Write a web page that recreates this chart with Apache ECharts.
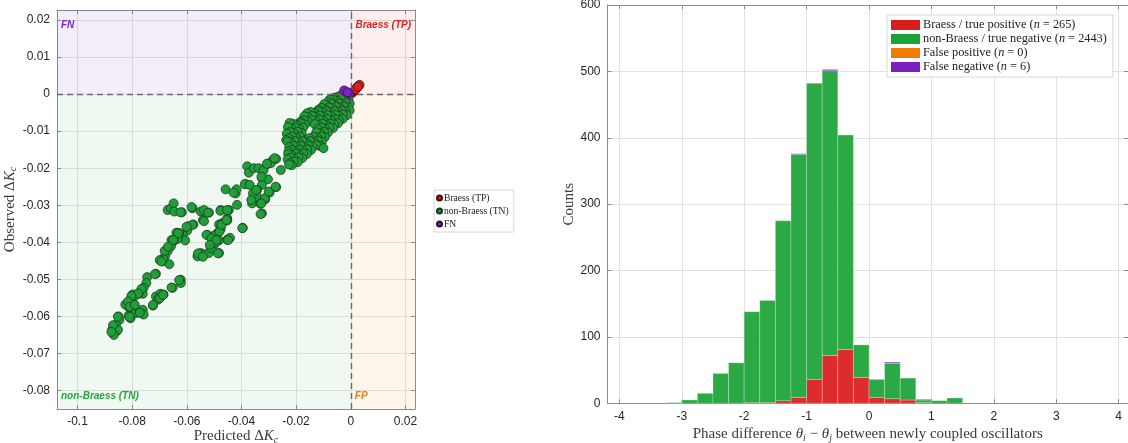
<!DOCTYPE html>
<html><head><meta charset="utf-8">
<script src="https://cdn.jsdelivr.net/npm/echarts@6/dist/echarts.min.js"></script>
<style>html,body{margin:0;padding:0;background:#fff}#c{width:1128px;height:443px}</style>
</head><body><div id="c"></div>
<script>
// ---------- Scatter data (Predicted ΔKc, Observed ΔKc) ----------
const tpPoints = [[0.0005,0.0003],[0.0008,0.0006],[0.0012,0.0008],[0.0016,0.0011],[0.0020,0.0015],[0.0024,0.0019],[0.0028,0.0022],[0.0032,0.0025],[0.0018,0.0013],[0.0026,0.0020]];
const fnPoints = [[-0.0024,0.0010],[-0.0006,0.0002],[-0.0012,0.0005]];
const tnPoints = [
[-0.0012,-0.0003],[-0.0025,-0.0006],[-0.0038,-0.0004],[-0.0050,-0.0008],[-0.0062,-0.0010],
[-0.0008,-0.0015],[-0.0022,-0.0017],[-0.0036,-0.0014],[-0.0049,-0.0018],[-0.0063,-0.0016],[-0.0077,-0.0015],[-0.0083,-0.0021],
[-0.0004,-0.0026],[-0.0018,-0.0024],[-0.0031,-0.0028],[-0.0045,-0.0025],[-0.0058,-0.0029],[-0.0072,-0.0026],[-0.0086,-0.0030],[-0.0097,-0.0027],
[-0.0010,-0.0036],[-0.0024,-0.0034],[-0.0039,-0.0038],[-0.0053,-0.0035],[-0.0067,-0.0039],[-0.0081,-0.0036],[-0.0095,-0.0040],[-0.0108,-0.0037],[-0.0118,-0.0042],
[-0.0004,-0.0044],[-0.0019,-0.0047],[-0.0033,-0.0045],[-0.0047,-0.0049],[-0.0061,-0.0046],[-0.0076,-0.0050],[-0.0090,-0.0046],[-0.0104,-0.0049],[-0.0119,-0.0047],[-0.0133,-0.0051],[-0.0147,-0.0048],[-0.0160,-0.0052],
[-0.0015,-0.0057],[-0.0029,-0.0055],[-0.0043,-0.0059],[-0.0057,-0.0056],[-0.0071,-0.0060],[-0.0086,-0.0057],[-0.0100,-0.0061],[-0.0114,-0.0058],[-0.0128,-0.0062],[-0.0142,-0.0059],[-0.0156,-0.0063],[-0.0170,-0.0060],
[-0.0030,-0.0067],[-0.0044,-0.0070],[-0.0058,-0.0068],[-0.0072,-0.0071],[-0.0087,-0.0068],[-0.0101,-0.0072],[-0.0115,-0.0069],[-0.0129,-0.0073],[-0.0143,-0.0070],[-0.0157,-0.0074],[-0.0171,-0.0071],[-0.0185,-0.0075],
[-0.0047,-0.0079],[-0.0061,-0.0082],[-0.0075,-0.0080],[-0.0089,-0.0083],[-0.0104,-0.0080],[-0.0118,-0.0084],[-0.0132,-0.0081],[-0.0168,-0.0082],[-0.0183,-0.0079],[-0.0197,-0.0083],[-0.0211,-0.0080],[-0.0224,-0.0078],
[-0.0065,-0.0092],[-0.0079,-0.0090],[-0.0093,-0.0094],[-0.0107,-0.0091],[-0.0121,-0.0095],[-0.0175,-0.0091],[-0.0189,-0.0094],[-0.0203,-0.0090],[-0.0217,-0.0093],[-0.0230,-0.0089],
[-0.0084,-0.0104],[-0.0098,-0.0102],[-0.0112,-0.0106],[-0.0126,-0.0103],[-0.0180,-0.0105],[-0.0194,-0.0102],[-0.0208,-0.0106],[-0.0222,-0.0103],[-0.0234,-0.0107],
[-0.0095,-0.0116],[-0.0109,-0.0114],[-0.0123,-0.0118],[-0.0137,-0.0115],[-0.0152,-0.0119],[-0.0186,-0.0115],[-0.0200,-0.0118],[-0.0214,-0.0115],[-0.0228,-0.0119],[-0.0236,-0.0124],
[-0.0106,-0.0128],[-0.0120,-0.0126],[-0.0134,-0.0130],[-0.0148,-0.0127],[-0.0163,-0.0131],[-0.0177,-0.0127],[-0.0191,-0.0130],[-0.0205,-0.0127],[-0.0219,-0.0131],[-0.0232,-0.0128],
[-0.0112,-0.0140],[-0.0126,-0.0138],[-0.0140,-0.0142],[-0.0155,-0.0139],[-0.0169,-0.0143],[-0.0183,-0.0139],[-0.0197,-0.0142],[-0.0211,-0.0139],[-0.0225,-0.0143],
[-0.0100,-0.0146],[-0.0146,-0.0151],[-0.0160,-0.0149],[-0.0174,-0.0153],[-0.0188,-0.0150],[-0.0202,-0.0154],[-0.0216,-0.0151],[-0.0228,-0.0155],
[-0.0161,-0.0162],[-0.0175,-0.0160],[-0.0189,-0.0164],[-0.0203,-0.0161],[-0.0217,-0.0165],[-0.0229,-0.0162],
[-0.0178,-0.0173],[-0.0192,-0.0171],[-0.0206,-0.0175],[-0.0220,-0.0172],[-0.0231,-0.0176],
[-0.0195,-0.0184],[-0.0209,-0.0182],[-0.0222,-0.0186],[-0.0216,-0.0192],[-0.0226,-0.0190],
[-0.0285,-0.0178],[-0.0256,-0.0205],
[-0.0379,-0.0195],[-0.0373,-0.0212],[-0.0355,-0.0200],[-0.0337,-0.0200],[-0.0319,-0.0205],[-0.0303,-0.0188],[-0.0292,-0.0186],[-0.0273,-0.0175],
[-0.0385,-0.0243],[-0.0325,-0.0227],[-0.0303,-0.0230],[-0.0273,-0.0251],[-0.0325,-0.0245],[-0.0343,-0.0259],[-0.0349,-0.0272],[-0.0355,-0.0284],[-0.0361,-0.0295],[-0.0343,-0.0277],[-0.0313,-0.0284],[-0.0297,-0.0266],[-0.0331,-0.0296],[-0.0325,-0.0322],[-0.0416,-0.0299],[-0.0458,-0.0257],[-0.0421,-0.0268],[-0.0418,-0.0257],[-0.0446,-0.0313],[-0.0476,-0.0313],
[-0.0670,-0.0313],[-0.0658,-0.0308],[-0.0648,-0.0295],[-0.0646,-0.0317],[-0.0618,-0.0319],[-0.0579,-0.0308],[-0.0549,-0.0317],[-0.0537,-0.0313],[-0.0519,-0.0320],[-0.0452,-0.0335],
[-0.0583,-0.0305],[-0.0541,-0.0340],[-0.0522,-0.0320],[-0.0477,-0.0315],[-0.0452,-0.0313],[-0.0429,-0.0266],[-0.0388,-0.0243],[-0.0623,-0.0319],
[-0.0370,-0.0245],[-0.0358,-0.0268],[-0.0364,-0.0286],[-0.0346,-0.0259],[-0.0315,-0.0281],[-0.0327,-0.0295],[-0.0300,-0.0263],[-0.0330,-0.0324],[-0.0327,-0.0223],[-0.0307,-0.0188],[-0.0279,-0.0173],[-0.0275,-0.0250],
[-0.0537,-0.0343],[-0.0576,-0.0352],[-0.0595,-0.0357],[-0.0598,-0.0368],[-0.0615,-0.0380],[-0.0628,-0.0375],[-0.0606,-0.0395],[-0.0634,-0.0391],[-0.0648,-0.0397],[-0.0658,-0.0411],[-0.0670,-0.0424],[-0.0680,-0.0438],[-0.0688,-0.0451],[-0.0664,-0.0459],[-0.0686,-0.0445],
[-0.0482,-0.0352],[-0.0470,-0.0348],[-0.0452,-0.0341],[-0.0476,-0.0364],[-0.0488,-0.0375],[-0.0500,-0.0382],[-0.0525,-0.0380],[-0.0506,-0.0395],[-0.0482,-0.0395],[-0.0452,-0.0393],[-0.0442,-0.0388],[-0.0395,-0.0361],[-0.0549,-0.0429],[-0.0555,-0.0436],[-0.0561,-0.0438],[-0.0537,-0.0433],[-0.0519,-0.0429],[-0.0500,-0.0406],[-0.0482,-0.0429],[-0.0513,-0.0415],[-0.0494,-0.0400],
[-0.0713,-0.0485],[-0.0745,-0.0494],[-0.0748,-0.0510],[-0.0758,-0.0523],[-0.0767,-0.0532],[-0.0761,-0.0539],[-0.0777,-0.0539],[-0.0792,-0.0546],[-0.0798,-0.0541],[-0.0806,-0.0559],[-0.0815,-0.0573],[-0.0804,-0.0582],[-0.0786,-0.0591],[-0.0773,-0.0589],[-0.0761,-0.0582],[-0.0758,-0.0595],[-0.0806,-0.0605],[-0.0813,-0.0598],
[-0.0713,-0.0546],[-0.0697,-0.0539],[-0.0685,-0.0541],[-0.0706,-0.0555],[-0.0724,-0.0571],[-0.0652,-0.0523],[-0.0622,-0.0501],[-0.0622,-0.0510],[-0.0825,-0.0568],
[-0.0850,-0.0600],[-0.0846,-0.0609],[-0.0860,-0.0623],[-0.0873,-0.0636],[-0.0870,-0.0645],[-0.0858,-0.0641],[-0.0852,-0.0636],[-0.0867,-0.0650],
[-0.0580,-0.0353],[-0.0638,-0.0374],[-0.0656,-0.0394],[-0.0681,-0.0423],[-0.0699,-0.0448],[-0.0717,-0.0486],
[-0.0528,-0.0380],[-0.0510,-0.0389],[-0.0492,-0.0394],[-0.0480,-0.0371],[-0.0473,-0.0353],[-0.0455,-0.0340],[-0.0449,-0.0394],[-0.0516,-0.0407],[-0.0559,-0.0430],[-0.0541,-0.0439],[-0.0486,-0.0430],[-0.0397,-0.0362],
[-0.0601,-0.0358],[-0.0632,-0.0376],[-0.0650,-0.0394],[-0.0669,-0.0412],[-0.0693,-0.0452],[-0.0766,-0.0526],[-0.0778,-0.0538],[-0.0803,-0.0545],[-0.0815,-0.0560],[-0.0809,-0.0574],[-0.0790,-0.0569],[-0.0772,-0.0590],[-0.0809,-0.0601],[-0.0852,-0.0601],[-0.0870,-0.0624],[-0.0876,-0.0642],[-0.0724,-0.0569],[-0.0699,-0.0551],[-0.0687,-0.0542],[-0.0656,-0.0522],[-0.0628,-0.0502]
];
const scatterXTicks = [-0.1,-0.08,-0.06,-0.04,-0.02,0,0.02];
const scatterYTicks = [-0.08,-0.07,-0.06,-0.05,-0.04,-0.03,-0.02,-0.01,0,0.01,0.02];

// ---------- Histogram data ----------
const binLeft   = [-3.25,-3,-2.75,-2.5,-2.25,-2,-1.75,-1.5,-1.25,-1,-0.75,-0.5,-0.25,0,0.25,0.5,0.75,1,1.25];
const binWidth  = 0.25;
const tpCounts  = [0,0,0,0,0,1,1,4,9,36,72,81,39,9,7,5,1,0,0];
const tnCounts  = [1,5,15,45,61,137,154,271,366,446,429,323,49,27,53,33,4,4,8];
const fpCounts  = [0,0,0,0,0,0,0,0,0,0,0,0,0,0,0,0,0,0,0];
const fnCounts  = [0,0,0,0,0,0,0,0,1,0,2,0,0,0,2,0,1,0,0];
const histXTicks = [-4,-3,-2,-1,0,1,2,3,4];
const histYTicks = [0,100,200,300,400,500,600];

const histNames = ['Braess / true positive (n = 265)','non-Braess / true negative (n = 2443)','False positive (n = 0)','False negative (n = 6)'];
const histColors = ['#D91C1C','#1BA336','#F27A00','#7E1FBF'];
const scatterNames = ['Braess (TP)','non-Braess (TN)','FN'];

// ---------- build stacked histogram rectangles ----------
const stacks = [tpCounts, tnCounts, fpCounts, fnCounts];
const base = binLeft.map(() => 0);
const histData = stacks.map(counts => counts.map((c, i) => {
  const b = base[i]; base[i] += c;
  return [binLeft[i], binLeft[i] + binWidth, b, b + c];
}));

const sans = 'Liberation Sans, Arial, Helvetica, sans-serif';
const serif = 'Liberation Serif, Times New Roman, serif';
const frame = '#8c8c8c';
const gridCol = '#e2e2e2';
const tickLbl = {color:'#262626', fontSize:12, fontFamily:sans};

function mainAxis(ticks, extra) {
  return Object.assign({
    type:'value',
    axisLine:{show:true, onZero:false, lineStyle:{color:frame, width:1}},
    axisTick:{show:true, inside:true, length:4, lineStyle:{color:frame}, customValues:ticks},
    splitLine:{show:true, lineStyle:{color:gridCol, width:1}},
    axisLabel:Object.assign({margin:7, customValues:ticks}, tickLbl)
  }, extra);
}
function mirrorAxis(ticks, extra) {
  return Object.assign({
    type:'value',
    axisLine:{show:true, onZero:false, lineStyle:{color:frame, width:1}},
    axisTick:{show:true, inside:true, length:4, lineStyle:{color:frame}, customValues:ticks},
    splitLine:{show:false},
    axisLabel:{show:false}
  }, extra);
}

const LX = {min:-0.1075, max:0.0235};
const LY = {min:-0.085, max:0.0227};
const RX = {min:-4.19, max:4.15};
const RY = {min:0, max:600};

const nameRich = {
  a:{fontFamily:serif, fontSize:15, color:'#3a3a3a'},
  k:{fontFamily:serif, fontSize:15, fontStyle:'italic', color:'#3a3a3a'},
  s:{fontFamily:serif, fontSize:10, fontStyle:'italic', color:'#3a3a3a', padding:[8,0,0,0]}
};

function bgArea(x0, x1, y0, y1, fill, text, pos, col, off) {
  return [{
    xAxis:x0, yAxis:y0,
    itemStyle:{color:fill},
    label:{show:true, position:pos, formatter:text, color:col, fontFamily:sans, fontWeight:'bold', fontStyle:'italic', fontSize:10, distance:4, offset:off}
  }, {xAxis:x1, yAxis:y1}];
}

const option = {
  animation:false,
  backgroundColor:'#ffffff',
  grid:[
    {left:57, top:10, right:713, bottom:34, outerBoundsMode:'none', containLabel:false},
    {left:607.5, top:5, right:0, bottom:39.7, outerBoundsMode:'none', containLabel:false}
  ],
  xAxis:[
    mainAxis(scatterXTicks, Object.assign({gridIndex:0, position:'bottom',
      name:'{a|Predicted Δ}{k|K}{s|c}', nameLocation:'middle', nameGap:18, nameMoveOverlap:false,
      nameTextStyle:{rich:nameRich}}, LX)),
    mirrorAxis(scatterXTicks, Object.assign({gridIndex:0, position:'top'}, LX)),
    mainAxis(histXTicks, Object.assign({gridIndex:1, position:'bottom',
      name:'{a|Phase difference }{k|θ}{s|i}{a| − }{k|θ}{s|j}{a| between newly coupled oscillators}', nameLocation:'middle', nameGap:22, nameMoveOverlap:false,
      nameTextStyle:{rich:nameRich}}, RX)),
    mirrorAxis(histXTicks, Object.assign({gridIndex:1, position:'top'}, RX))
  ],
  yAxis:[
    mainAxis(scatterYTicks, Object.assign({gridIndex:0, position:'left',
      name:'{a|Observed Δ}{k|K}{s|c}', nameLocation:'middle', nameGap:33,
      nameTextStyle:{rich:nameRich}}, LY)),
    mirrorAxis(scatterYTicks, Object.assign({gridIndex:0, position:'right'}, LY)),
    mainAxis(histYTicks, Object.assign({gridIndex:1, position:'left',
      name:'Counts', nameLocation:'middle', nameGap:31,
      nameTextStyle:{fontFamily:serif, fontSize:15, color:'#3a3a3a'}}, RY)),
    mirrorAxis(histYTicks, Object.assign({gridIndex:1, position:'right'}, RY))
  ],
  legend:[
    {
      data:scatterNames, left:434, top:190, orient:'vertical',
      icon:'circle', itemWidth:5, itemHeight:5, itemGap:3,
      padding:[3,5,3,2], borderColor:'#d8d8d8', borderWidth:1, backgroundColor:'#fff',
      textStyle:{fontFamily:serif, fontSize:9.6, color:'#222', lineHeight:9.5, padding:[0,0,0,-3]}
    },
    {
      data:histNames, left:887, top:15, orient:'vertical',
      icon:'rect', itemWidth:29, itemHeight:10, itemGap:2,
      padding:[4,6,4,4], borderColor:'#d8d8d8', borderWidth:1, backgroundColor:'#fff',
      formatter: n => n.replace('(n =', '({i|n} ='),
      textStyle:{fontFamily:serif, fontSize:12.3, color:'#222', lineHeight:11, padding:[0,0,0,-2],
        rich:{i:{fontFamily:serif, fontSize:12.3, fontStyle:'italic', color:'#222', lineHeight:11}}}
    }
  ],
  series:[
    {
      name:'bg', type:'scatter', xAxisIndex:0, yAxisIndex:0, data:[], silent:true, z:1,
      markArea:{silent:true, data:[
        bgArea(LX.min, 0, 0, LY.max, 'rgba(126,47,190,0.09)', 'FN', 'insideTopLeft', '#7E22CC', [0,6]),
        bgArea(0, LX.max, 0, LY.max, 'rgba(220,40,30,0.08)', 'Braess (TP)', 'insideTopRight', '#E02020', [0,6]),
        bgArea(LX.min, 0, LY.min, 0, 'rgba(30,160,60,0.07)', 'non-Braess (TN)', 'insideBottomLeft', '#21A83C', [0,-4]),
        bgArea(0, LX.max, LY.min, 0, 'rgba(240,130,20,0.08)', 'FP', 'insideBottomLeft', '#F27F00', [0,-4])
      ]},
      markLine:{silent:true, symbol:'none', label:{show:false},
        lineStyle:{color:'#6a6a6a', type:[6,4], width:1.4},
        data:[{xAxis:0},{yAxis:0}]}
    },
    {
      name:'non-Braess (TN)', type:'scatter', xAxisIndex:0, yAxisIndex:0, z:3,
      symbolSize:9, data:tnPoints,
      itemStyle:{color:'#1F9F38', borderColor:'#1d2d1d', borderWidth:0.7, opacity:1}
    },
    {
      name:'Braess (TP)', type:'scatter', xAxisIndex:0, yAxisIndex:0, z:4,
      symbolSize:9, data:tpPoints,
      itemStyle:{color:'#DD1E1E', borderColor:'#3a1010', borderWidth:0.7, opacity:1}
    },
    {
      name:'FN', type:'scatter', xAxisIndex:0, yAxisIndex:0, z:5,
      symbolSize:9, data:fnPoints,
      itemStyle:{color:'#7B22C8', borderColor:'#2a103a', borderWidth:0.7, opacity:1}
    }
  ].concat(histNames.map((nm, k) => ({
    name:nm, type:'custom', xAxisIndex:2, yAxisIndex:2, z:3,
    itemStyle:{color:histColors[k]},
    encode:{x:[0,1], y:[2,3]},
    data:histData[k],
    renderItem:(params, api) => {
      const v0 = api.value(2), v1 = api.value(3);
      if (v1 - v0 <= 0) return null;
      const p0 = api.coord([api.value(0), v1]);
      const p1 = api.coord([api.value(1), v0]);
      return {type:'rect', shape:{x:p0[0], y:p0[1], width:p1[0]-p0[0], height:p1[1]-p0[1]},
        style:{fill:histColors[k], opacity:0.93, stroke:'rgba(255,255,255,0.35)', lineWidth:0.8}};
    }
  })))
};

const chart = echarts.init(document.getElementById('c'), null, {renderer:'canvas'});
chart.setOption(option);
</script></body></html>
